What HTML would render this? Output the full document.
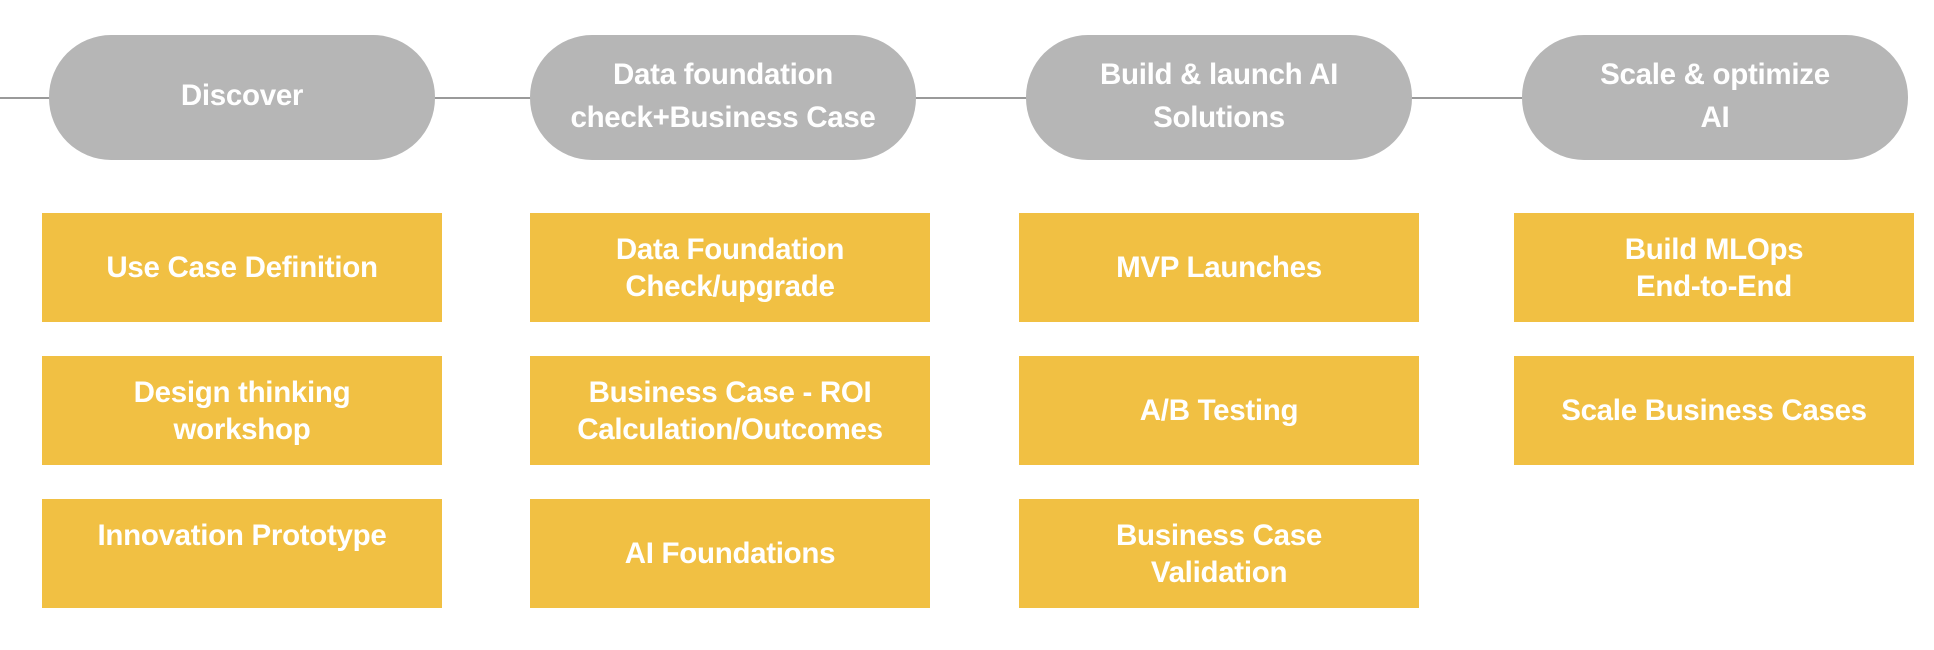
<!DOCTYPE html>
<html><head><meta charset="utf-8"><style>
body{margin:0;width:1934px;height:650px;background:#fff;position:relative;overflow:hidden;font-family:"Liberation Sans",sans-serif;font-weight:bold;color:#fff}
.line{position:absolute;left:0;top:97px;width:1522px;height:2px;background:#9a9a9a}
.p{position:absolute;top:35px;height:125px;width:386px;border-radius:62px;background:#b6b6b6;display:flex;align-items:center;justify-content:center;text-align:center;font-size:29.5px;line-height:43px;padding-bottom:4px;box-sizing:border-box;letter-spacing:-0.3px}
.b{position:absolute;width:400px;height:109px;background:#f1c043;display:flex;align-items:center;justify-content:center;text-align:center;font-size:29.5px;line-height:37px;letter-spacing:-0.3px}
</style></head><body>
<div class="line"></div>
<div class="p" style="left:49px">Discover</div>
<div class="p" style="left:530px">Data foundation<br>check+Business Case</div>
<div class="p" style="left:1026px">Build &amp; launch AI<br>Solutions</div>
<div class="p" style="left:1522px">Scale &amp; optimize<br>AI</div>

<div class="b" style="left:42px;top:213px">Use Case Definition</div>
<div class="b" style="left:42px;top:356px">Design thinking<br>workshop</div>
<div class="b" style="left:42px;top:499px;padding-bottom:36px;box-sizing:border-box">Innovation Prototype</div>

<div class="b" style="left:530px;top:213px">Data Foundation<br>Check/upgrade</div>
<div class="b" style="left:530px;top:356px">Business Case - ROI<br>Calculation/Outcomes</div>
<div class="b" style="left:530px;top:499px">AI Foundations</div>

<div class="b" style="left:1019px;top:213px">MVP Launches</div>
<div class="b" style="left:1019px;top:356px">A/B Testing</div>
<div class="b" style="left:1019px;top:499px">Business Case<br>Validation</div>

<div class="b" style="left:1514px;top:213px">Build MLOps<br>End-to-End</div>
<div class="b" style="left:1514px;top:356px">Scale Business Cases</div>
</body></html>
